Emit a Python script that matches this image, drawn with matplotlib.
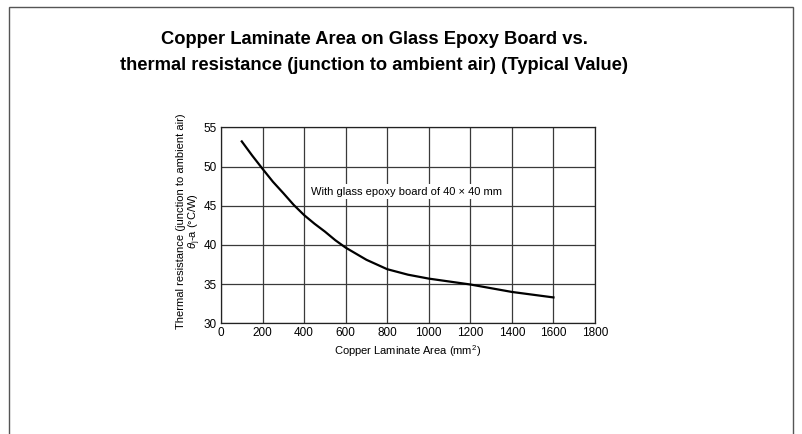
import matplotlib.pyplot as plt
from matplotlib.patches import Rectangle

plt.rcParams["font.family"] = ["Liberation Sans", "DejaVu Sans"]
plt.rcParams["mathtext.fontset"] = "custom"
plt.rcParams["mathtext.rm"] = "Liberation Sans"
plt.rcParams["mathtext.it"] = "Liberation Sans:italic"

# curve
area_mm2 = [100, 150, 200, 250, 300, 350, 400, 450, 500, 550, 600,
            700, 800, 900, 1000, 1200, 1400, 1600]
theta_ja = [53.2, 51.4, 49.7, 48.05, 46.6, 45.1, 43.8, 42.7, 41.7, 40.6, 39.65,
            38.1, 36.9, 36.2, 35.7, 34.95, 34.0, 33.3]

x_ticks = [0, 200, 400, 600, 800, 1000, 1200, 1400, 1600, 1800]
y_ticks = [30, 35, 40, 45, 50, 55]

W, H = 803, 434
fig = plt.figure(figsize=(W / 100, H / 100), dpi=100)

# outer frame (bottom edge runs off the image)
fig.patches.append(
    Rectangle((9 / W, -0.05), 784 / W, 1.05 - 6.5 / H,
              transform=fig.transFigure, fill=False, ec="#555555", lw=1.0)
)

fig.text(374 / W, 1 - 40 / H,
         "Copper Laminate Area on Glass Epoxy Board vs.",
         ha="center", va="center", fontsize=13.2, weight="bold")
fig.text(374 / W, 1 - 65 / H,
         "thermal resistance (junction to ambient air) (Typical Value)",
         ha="center", va="center", fontsize=13.2, weight="bold")

ax = fig.add_axes([221 / W, 1 - 323.3 / H, 374 / W, 196 / H])
ax.plot(area_mm2, theta_ja, color="black", lw=1.6)

ax.set_xlim(0, 1800)
ax.set_ylim(30, 55)
ax.set_xticks(x_ticks)
ax.set_yticks(y_ticks)
ax.tick_params(length=0, labelsize=8.5, pad=3)
ax.grid(True, color="#3a3a3a", lw=0.9)
for s in ax.spines.values():
    s.set_color("#222222")
    s.set_linewidth(0.9)

ax.text(433, 46.8, "With glass epoxy board of 40 \u00d7 40 mm",
        ha="left", va="center", fontsize=8,
        bbox=dict(fc="white", ec="none", pad=2))

ax.set_xlabel("Copper Laminate Area (mm$^2$)", fontsize=8, labelpad=3)
ax.set_ylabel("Thermal resistance (junction to ambient air)\n"
              r"$\mathit{\theta}_{\mathrm{j}}$-a (" + "\u00b0C/W)",
              fontsize=8, labelpad=1, linespacing=1.05)
ax.yaxis.set_label_coords(-0.048, 0.52)

fig.savefig("out.png", facecolor="white")
